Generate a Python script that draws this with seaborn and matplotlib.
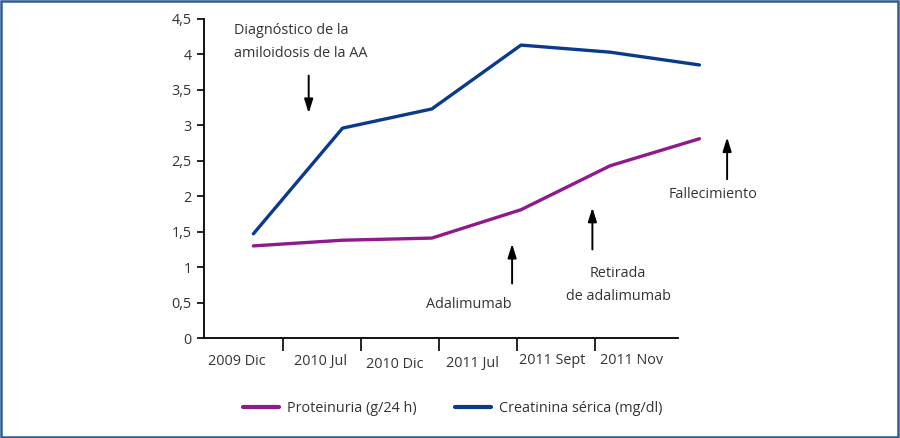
import numpy as np
import pandas as pd
import seaborn as sns
import matplotlib.pyplot as plt
from matplotlib.patches import Rectangle

# Datos
fechas = ['2009 Dic', '2010 Jul', '2010 Dic', '2011 Jul', '2011 Sept', '2011 Nov']
proteinuria = [1.30, 1.38, 1.41, 1.81, 2.43, 2.81]
creatinina = [1.47, 2.96, 3.23, 4.13, 4.03, 3.85]
series = ['Proteinuria (g/24 h)', 'Creatinina sérica (mg/dl)']
colores = ['#8e1a8c', '#0a3a8c']


def build_frame():
    idx = np.arange(len(fechas))
    df1 = pd.DataFrame({'x': idx, 'valor': proteinuria, 'serie': series[0]})
    df2 = pd.DataFrame({'x': idx, 'valor': creatinina, 'serie': series[1]})
    return pd.concat([df1, df2], ignore_index=True)


def main():
    sns.set_style('white')
    plt.rcParams['font.family'] = ['Open Sans', 'DejaVu Sans']
    plt.rcParams['font.size'] = 10.4
    txt = '#333333'
    fs = 10.4

    fig = plt.figure(figsize=(9, 4.38), dpi=100)
    ax = fig.add_axes([0.227, 0.228, 0.57, 0.729])

    df = build_frame()
    sns.lineplot(data=df, x='x', y='valor', hue='serie', hue_order=series,
                 palette=colores, linewidth=2.4, ax=ax)

    ax.set_xlim(-0.55, 5.2)
    ax.set_ylim(0, 4.5)
    ax.set_xlabel('')
    ax.set_ylabel('')

    # eje y
    yt = np.arange(0, 4.51, 0.5)
    ax.set_yticks(yt)
    ax.set_yticklabels([('%g' % v).replace('.', ',') for v in yt], color=txt)
    ax.tick_params(axis='y', direction='out', length=5, width=1.2, color='black',
                   left=True, pad=4, labelsize=fs)

    # eje x: separadores entre categorias y etiquetas desplazadas
    ax.set_xticks([0.33, 1.21, 2.08, 2.96, 3.83])
    ax.set_xticklabels([])
    ax.tick_params(axis='x', direction='out', length=9, width=1.2, color='black',
                   bottom=True)
    label_pos = [-0.18, 0.75, 1.59, 2.46, 3.35, 4.24]
    label_dy = [0, 0, -2, -1, 1, 1]
    for p, f, dy in zip(label_pos, fechas, label_dy):
        ax.annotate(f, xy=(p, 0), xycoords='data', xytext=(0, -17 + dy),
                    textcoords='offset points', ha='center', va='center',
                    color=txt, fontsize=fs, annotation_clip=False)

    for s in ['top', 'right']:
        ax.spines[s].set_visible(False)
    ax.spines['left'].set_color('black')
    ax.spines['bottom'].set_color('black')
    ax.spines['left'].set_linewidth(1.3)
    ax.spines['bottom'].set_linewidth(1.3)
    ax.spines['bottom'].set_bounds(-0.55, 4.76)

    # anotaciones con flechas
    arrow = dict(arrowstyle='-|>,head_length=0.8,head_width=0.25', color='black',
                 lw=1.4, shrinkA=0, shrinkB=0)
    ax.text(-0.22, 4.17, 'Diagnóstico de la\namiloidosis de la AA', color=txt,
            fontsize=fs, ha='left', va='center', linespacing=1.75)
    ax.annotate('', xy=(0.62, 3.17), xytext=(0.62, 3.70), arrowprops=arrow,
                annotation_clip=False)

    ax.annotate('', xy=(2.90, 1.33), xytext=(2.90, 0.77), arrowprops=arrow,
                annotation_clip=False)
    ax.text(2.41, 0.47, 'Adalimumab', color=txt, fontsize=fs, ha='center', va='center')

    ax.annotate('', xy=(3.80, 1.84), xytext=(3.80, 1.25), arrowprops=arrow,
                annotation_clip=False)
    ax.text(4.09, 0.75, 'Retirada\nde adalimumab', color=txt, fontsize=fs,
            ha='center', va='center', linespacing=1.75)

    ax.annotate('', xy=(5.31, 2.83), xytext=(5.31, 2.24), arrowprops=arrow,
                annotation_clip=False)
    ax.text(5.15, 2.02, 'Fallecimiento', color=txt, fontsize=fs, ha='center',
            va='center')
    for a in ax.texts:
        a.set_clip_on(False)

    # leyenda
    handles, labels = ax.get_legend_handles_labels()
    ax.legend(handles, labels, loc='center', bbox_to_anchor=(0.503, 0.068),
              bbox_transform=fig.transFigure, ncol=2, frameon=False,
              handlelength=2.5, columnspacing=2.6, handletextpad=0.6,
              labelcolor=txt, fontsize=fs)
    for line in ax.get_legend().get_lines():
        line.set_linewidth(3)

    # marco de la figura
    fig.patches.append(Rectangle((0.001, 0.002), 0.997, 0.996, transform=fig.transFigure,
                                 fill=False, edgecolor='#2f5b93', linewidth=1.8))

    fig.savefig('out.png', dpi=100)


if __name__ == "__main__":
    main()
